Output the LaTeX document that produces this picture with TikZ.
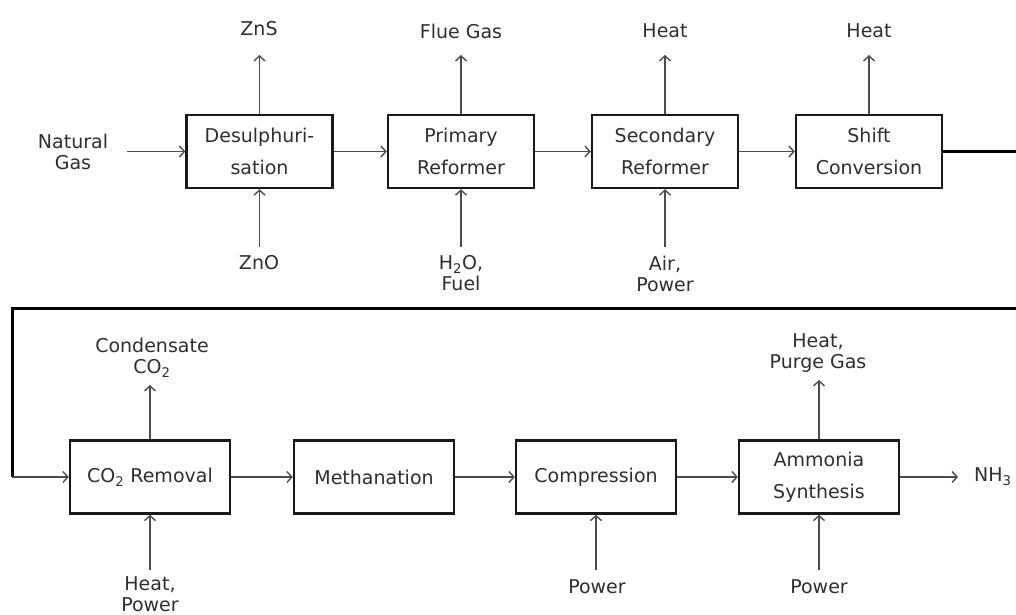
\documentclass[tikz,border=0pt]{standalone}
\usepackage{fontspec}
\setmainfont{DejaVu Sans}
\usetikzlibrary{arrows.meta}
\begin{document}
\begin{tikzpicture}[x=1pt,y=-1pt,
  box/.style={draw=black!90, line width=2.4pt, minimum width=146pt, minimum height=73pt,
    inner sep=0pt, align=center, font=\fontsize{19}{32}\selectfont, text=black!82},
  wbox/.style={box, minimum width=160pt},
  lbl/.style={align=center, font=\fontsize{19}{21}\selectfont, text=black!82, inner sep=0pt},
  flow/.style={draw=black!70, line width=1.4pt,
    -{Straight Barb[length=5pt,width=11pt,line width=1.4pt]}},
  link/.style={draw=black, line width=3pt}]
\useasboundingbox (0,0) rectangle (1016,614);

% top row
\node[box] (desul) at (259.5,151.5) {Desulphuri-\\sation};
\node[box] (prim)  at (461,151.5) {Primary\\Reformer};
\node[box] (sec)   at (665,151.5) {Secondary\\Reformer};
\node[box] (shift) at (869,151.5) {Shift\\Conversion};

% bottom row
\node[wbox] (co2)  at (150,477) {CO\textsubscript{2} Removal};
\node[wbox] (meth) at (374,477) {Methanation};
\node[wbox] (comp) at (596,477) {Compression};
\node[wbox] (amm)  at (819,477) {Ammonia\\Synthesis};

% labels
\node[lbl] (ng)   at (73,152) {Natural\\Gas};
\node[lbl] (zns)  at (259,29) {ZnS};
\node[lbl] (flue) at (461,31) {Flue Gas};
\node[lbl] (h1)   at (665,31) {Heat};
\node[lbl] (h2)   at (869,31) {Heat};
\node[lbl] (zno)  at (259,263) {ZnO};
\node[lbl] (h2o)  at (461,273.5) {H\textsubscript{2}O,\\Fuel};
\node[lbl] (air)  at (665,273.5) {Air,\\Power};
\node[lbl] (cond) at (152,358) {Condensate\\CO\textsubscript{2}};
\node[lbl] (purge) at (818,353) {Heat,\\Purge Gas};
\node[lbl] (hp)   at (150,594) {Heat,\\Power};
\node[lbl] (pw1)  at (597,587) {Power};
\node[lbl] (pw2)  at (819,587) {Power};
\node[lbl, anchor=west] (nh3) at (974,477) {NH\textsubscript{3}};

% connector end points
\coordinate (ngend) at (127,151.5);
\coordinate (topend) at (0,55);
\coordinate (botend) at (0,247);
\coordinate (co2up) at (0,385);
\coordinate (ammup) at (0,380);
\coordinate (lowend) at (0,570);
\coordinate (nh3end) at (958,477);
\coordinate (r1) at (1016,151.5);
\coordinate (r2) at (1016,308);
\coordinate (l1) at (12,308);
\coordinate (l2) at (12,477);

% top row flows
\draw[flow] (ngend) -- (desul.west);
\draw[flow] (desul) -- (prim);
\draw[flow] (prim) -- (sec);
\draw[flow] (sec) -- (shift);
\draw[flow] (desul.north) -- (desul.north |- topend);
\draw[flow] (prim.north) -- (prim.north |- topend);
\draw[flow] (sec.north) -- (sec.north |- topend);
\draw[flow] (shift.north) -- (shift.north |- topend);
\draw[flow] (desul.south |- botend) -- (desul.south);
\draw[flow] (prim.south |- botend) -- (prim.south);
\draw[flow] (sec.south |- botend) -- (sec.south);

% link between rows
\draw[link] (shift.east) -- (r1);
\draw[link] (r2) -- (l1) -- (l2);
\draw[flow] (l2) -- (co2.west);

% bottom row flows
\draw[flow] (co2) -- (meth);
\draw[flow] (meth) -- (comp);
\draw[flow] (comp) -- (amm);
\draw[flow] (amm.east) -- (nh3end);
\draw[flow] (co2.north) -- (co2.north |- co2up);
\draw[flow] (amm.north) -- (amm.north |- ammup);
\draw[flow] (co2.south |- lowend) -- (co2.south);
\draw[flow] (comp.south |- lowend) -- (comp.south);
\draw[flow] (amm.south |- lowend) -- (amm.south);
\end{tikzpicture}
\end{document}
